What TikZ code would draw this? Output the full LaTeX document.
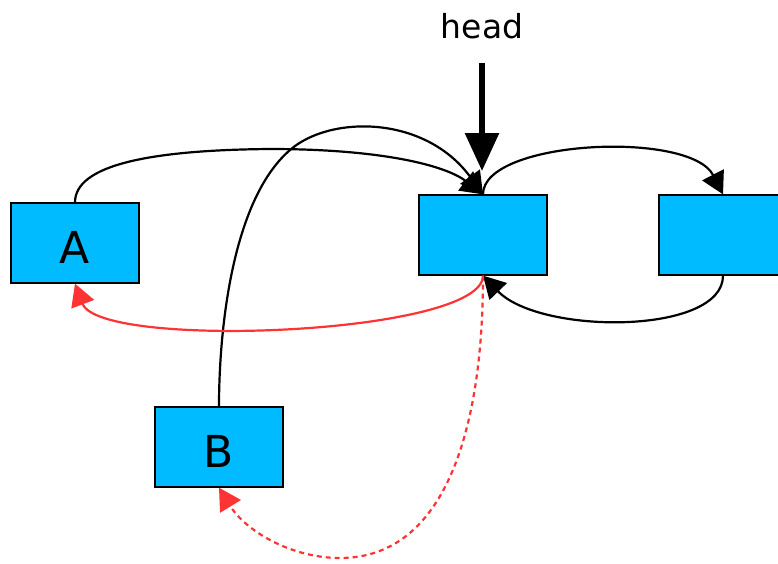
\documentclass[tikz,border=0pt]{standalone}
\usepackage{fontspec}
\setmainfont{DejaVu Sans}
\usetikzlibrary{arrows.meta}
\definecolor{boxblue}{RGB}{0,187,255}
\definecolor{linkred}{RGB}{255,51,51}
\begin{document}
\begin{tikzpicture}[x=1pt,y=-1pt,
  cell/.style={draw=black,line width=1.3pt,fill=boxblue,minimum width=128pt,minimum height=80pt,
    inner sep=0pt,text height=40pt,text depth=0pt,font=\fontsize{44}{50}\selectfont},
  link/.style={line width=2.2pt,-{Triangle[length=22pt,width=24pt]}},
  redlink/.style={link,draw=linkred},
  ]
\useasboundingbox (0,0) rectangle (778,563);
\clip (0,0) rectangle (778,563);
\node[cell] (A) at (75,243) {A};
\node[cell] (B) at (219,447) {B};
\node[cell] (n1) at (483,235) {};
\node[cell] (n2) at (723,235) {};
\node[font=\fontsize{33}{40}\selectfont,anchor=base,inner sep=0pt] (head) at (482,38) {head};
\coordinate (headtip) at (482,171);
\draw[line width=6pt,shorten <=24pt,-{Triangle[length=38pt,width=33pt]}] (head.south) -- (headtip);
\draw[link] (A.north) .. controls (75,165) and (150,150) .. (270,149) .. controls (380,149) and (445,165) .. (n1.north);
\draw[link] (B.north) .. controls (219,330) and (232,200) .. (290,150) .. controls (330,115) and (425,115) .. (n1.north);
\draw[link] (n1.north) .. controls (483,140) and (690,130) .. (n2.north);
\draw[link] (n2.south) .. controls (723,335) and (540,335) .. (n1.south);
\draw[redlink] (n1.south) .. controls (483,335) and (100,350) .. (A.south);
\draw[redlink,dash pattern=on 5pt off 4pt] (n1.south) .. controls (483,430) and (445,558) .. (340,558) .. controls (290,558) and (245,530) .. (B.south);
\end{tikzpicture}
\end{document}
